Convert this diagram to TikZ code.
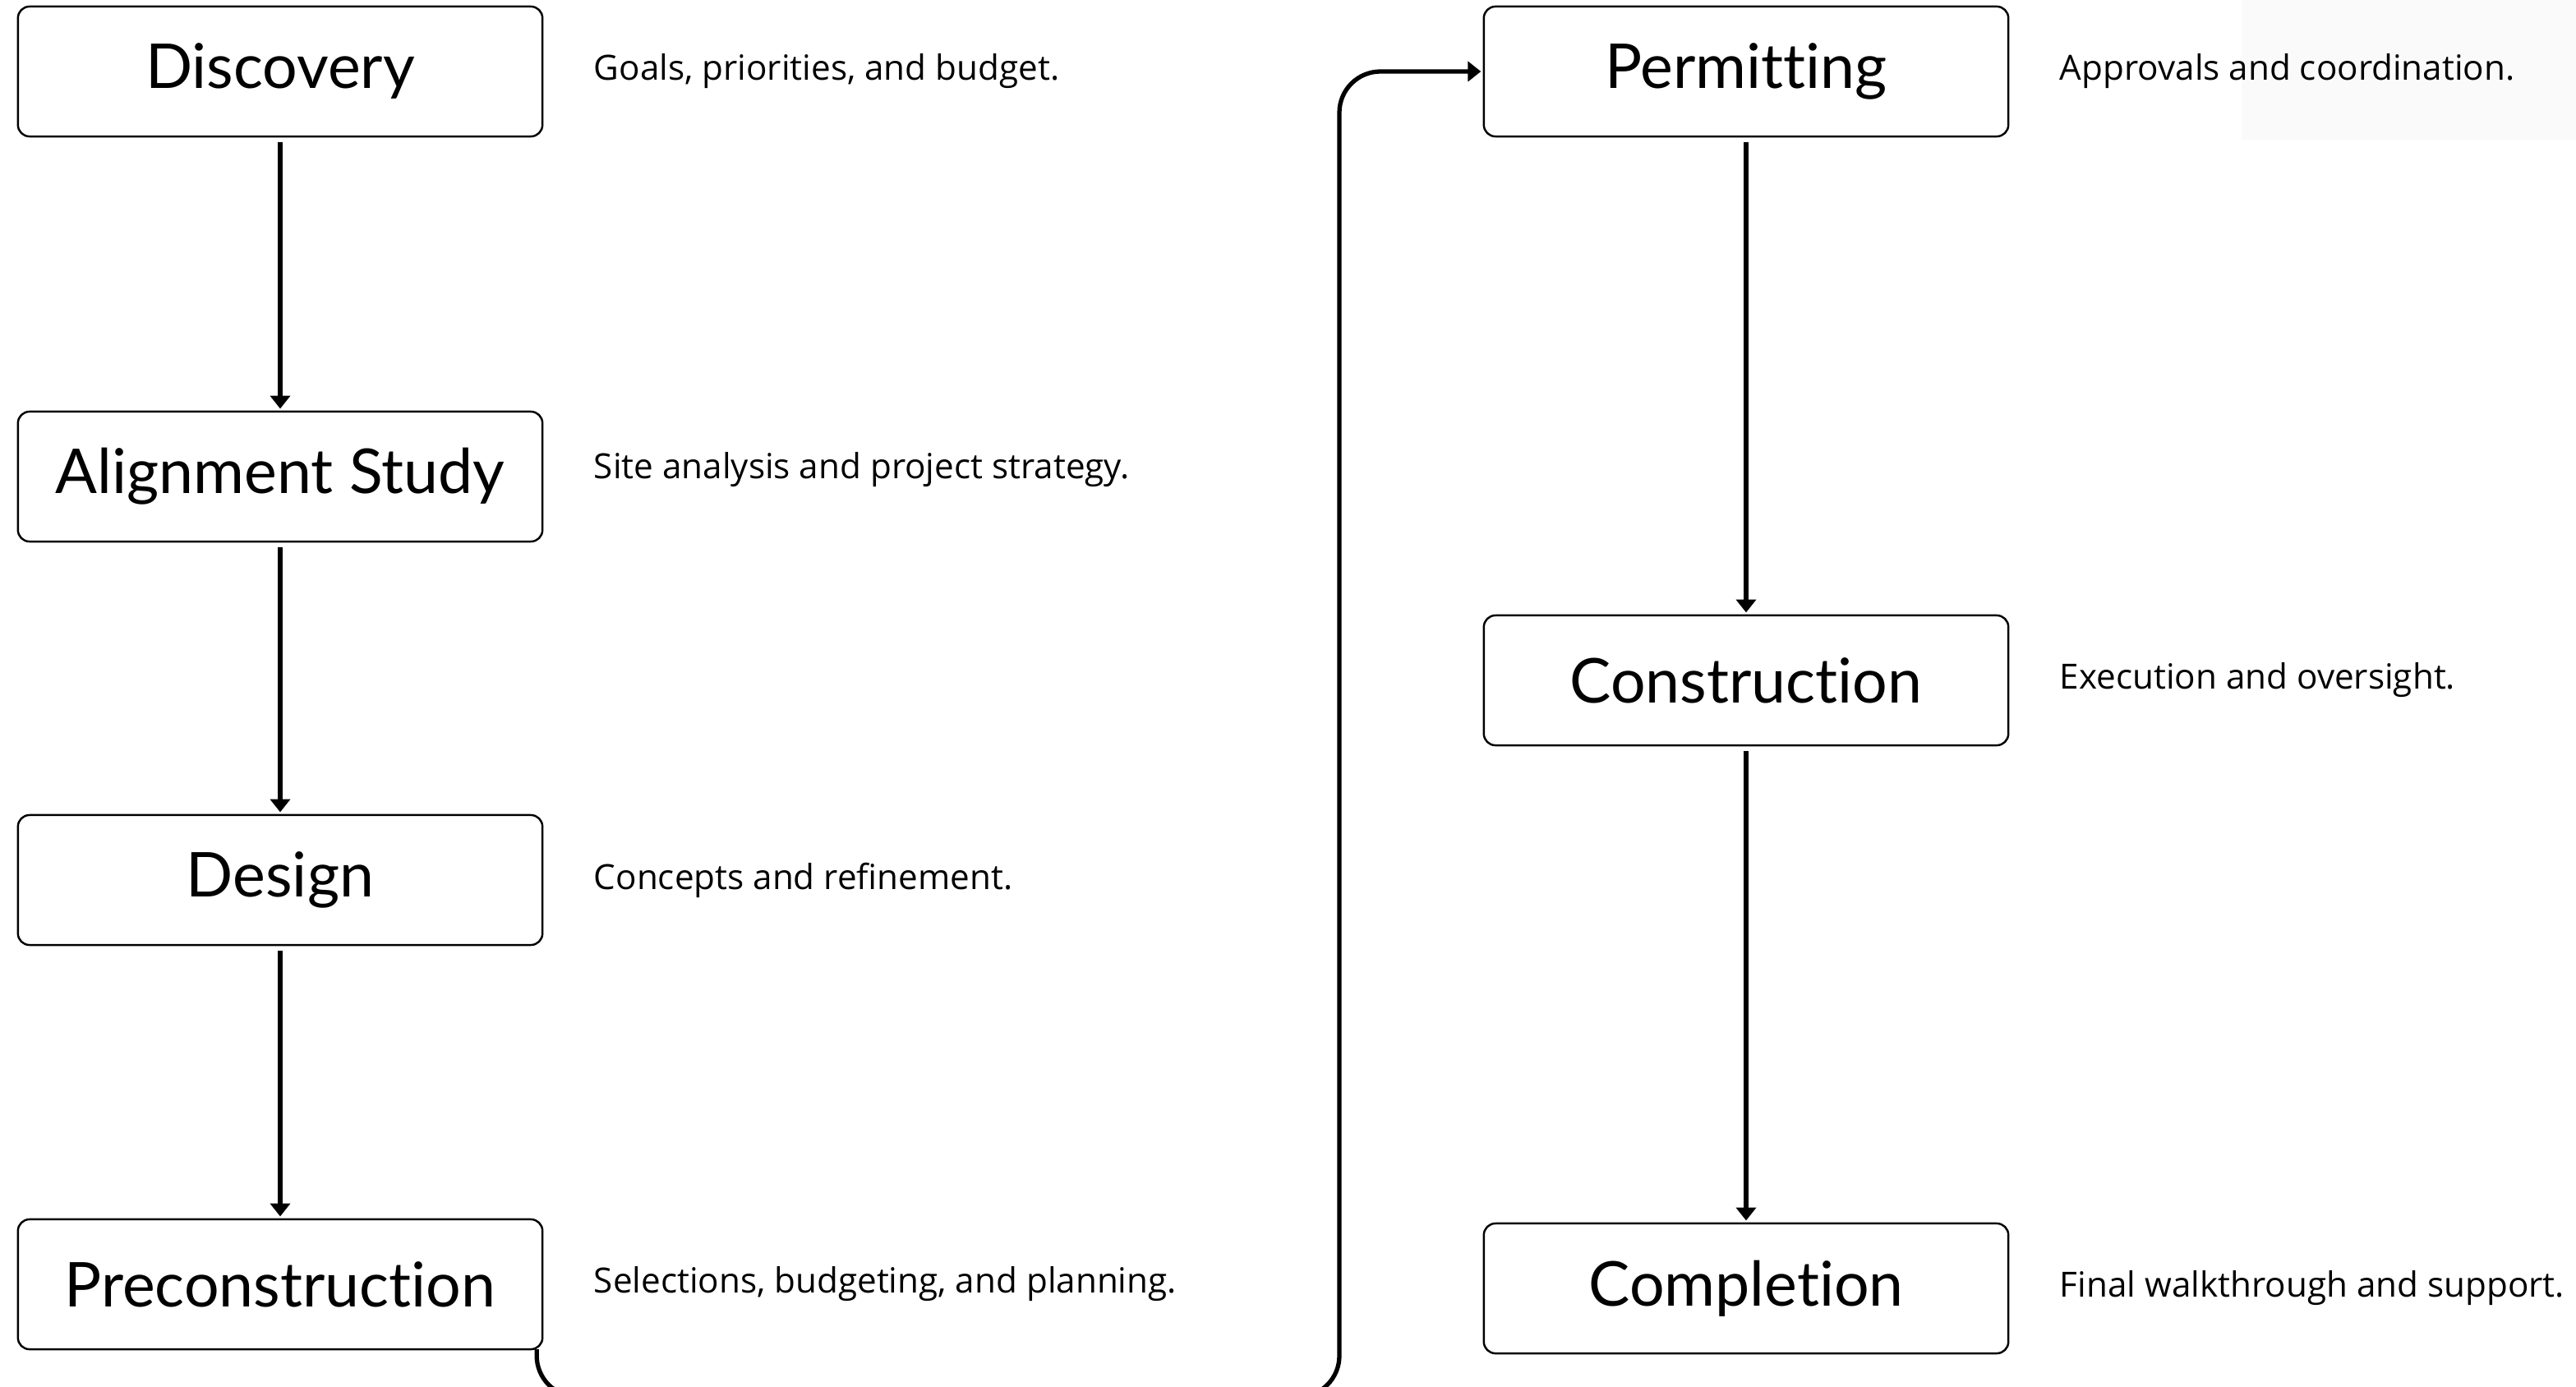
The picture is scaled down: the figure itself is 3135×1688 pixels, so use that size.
\documentclass[tikz,border=0pt]{standalone}
\usepackage{fontspec}
\setmainfont{Open Sans}
\newfontfamily\phasefont[Ligatures=NoCommon]{Lato}
\usepackage{tikz}
\usetikzlibrary{positioning, arrows.meta}

\begin{document}
\begin{tikzpicture}[x=0.01cm, y=-0.01cm,
	phase/.style={draw, line width=0.7pt, rounded corners=4pt, minimum width=6.38cm, minimum height=1.58cm, outer sep=0pt, font=\phasefont\fontsize{21.4}{24}\selectfont},
	note/.style={inner sep=0pt, font=\fontsize{12}{14}\selectfont},
	flow/.style={line width=1.5pt, -{Triangle[length=4.5pt, width=6.8pt]}, shorten <=2pt, shorten >=1pt}]
\useasboundingbox (0, 0) rectangle (3135, 1688);
\clip (0, 0) rectangle (3135, 1688);
\fill[black!2] (2728, 0) rectangle (3135, 170);
% left column
\node[phase] (disc) at (341, 87) {Discovery};
\node[phase] (align) at (341, 580) {Alignment Study};
\node[phase] (design) at (341, 1071) {Design};
\node[phase] (precon) at (341, 1563) {Preconstruction};
% right column
\node[phase] (permit) at (2125, 87) {Permitting};
\node[phase] (constr) at (2125, 828) {Construction};
\node[phase] (compl) at (2125, 1568) {Completion};
% notes
\node[note, right=0.62cm of disc] {Goals, priorities, and budget.};
\node[note, right=0.62cm of align, yshift=0.08cm] {Site analysis and project strategy.};
\node[note, right=0.62cm of design] {Concepts and refinement.};
\node[note, right=0.62cm of precon] {Selections, budgeting, and planning.};
\node[note, right=0.62cm of permit] {Approvals and coordination.};
\node[note, right=0.62cm of constr] {Execution and oversight.};
\node[note, right=0.62cm of compl] {Final walkthrough and support.};
% arrows
\draw[flow] (disc) -- (align);
\draw[flow] (align) -- (design);
\draw[flow] (design) -- (precon);
\draw[flow, shorten <=0pt, rounded corners=0.5cm] ([xshift=-0.07cm]precon.south east) |- (1630, 1700) |- (permit.west);
\draw[flow] (permit) -- (constr);
\draw[flow] (constr) -- (compl);
\end{tikzpicture}
\end{document}
